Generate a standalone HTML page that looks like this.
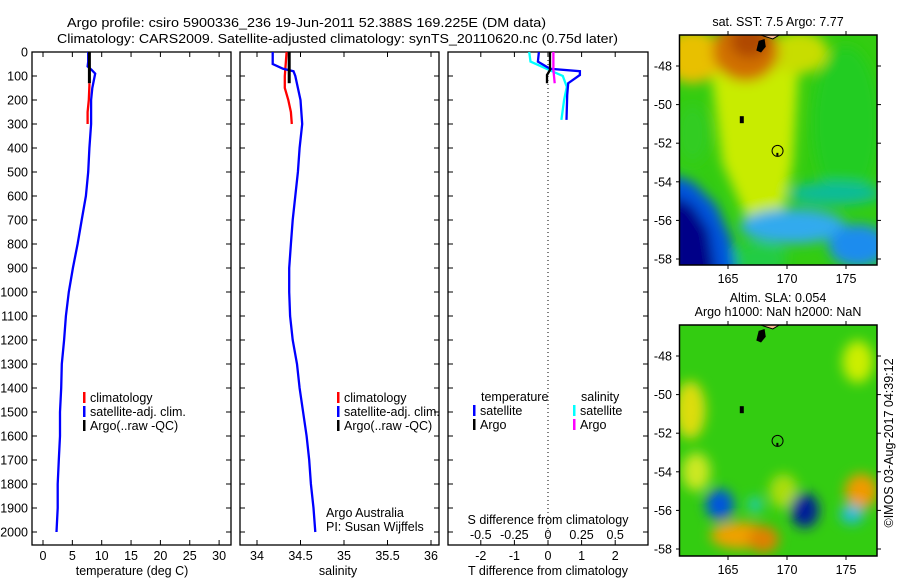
<!DOCTYPE html>
<html><head><meta charset="utf-8"><style>
body{margin:0;background:#fff;}
svg{display:block;font-family:"Liberation Sans",sans-serif;}
text{font-size:12.5px;fill:#000;}
</style></head><body>
<svg id="fig" width="900" height="580" viewBox="0 0 900 580" xmlns="http://www.w3.org/2000/svg">
<defs>
<filter id="blur1" x="-50%" y="-50%" width="200%" height="200%"><feGaussianBlur stdDeviation="6"/></filter>
<clipPath id="clipMap1"><rect x="680" y="35" width="197" height="230"/></clipPath>
<clipPath id="clipMap2"><rect x="680" y="325" width="197" height="231"/></clipPath>
</defs>
<text x="67" y="27" font-size="14.5" textLength="479" lengthAdjust="spacingAndGlyphs">Argo profile: csiro 5900336_236 19-Jun-2011 52.388S 169.225E (DM data)</text>
<text x="57" y="43" font-size="14.5" textLength="561" lengthAdjust="spacingAndGlyphs">Climatology: CARS2009. Satellite-adjusted climatology: synTS_20110620.nc (0.75d later)</text>
<g id="panels"></g>
<g id="maps"></g>
</svg>
<script>
// ---- profile data ----
const depthTicks = [0,100,200,300,400,500,600,700,800,900,1000,1100,1200,1300,1400,1500,1600,1700,1800,1900,2000];
const tempTicks = [0,5,10,15,20,25,30];
const salTicks = [34,34.5,35,35.5,36];
const tdiffTicks = [-2,-1,0,1,2];
const sdiffTicks = [-0.5,-0.25,0,0.25,0.5];

const satTempDepth = [0,40,60,75,90,100,150,200,300,400,500,600,700,800,900,1000,1100,1200,1300,1400,1500,1600,1700,1800,1900,2000];
const satTempVal   = [7.7,7.7,7.6,8.3,8.9,8.8,8.4,8.2,8.2,7.9,7.7,7.3,6.6,5.9,5.1,4.4,3.9,3.6,3.2,3.1,2.9,2.9,2.7,2.5,2.5,2.3];
const climTempDepth = [130,140,200,250,300];
const climTempVal   = [7.9,7.9,7.8,7.6,7.6];
const argoTempDepth = [0,130];
const argoTempVal   = [7.9,7.9];

const satSalDepth = [0,50,70,80,100,150,200,300,400,500,600,700,800,900,1000,1100,1200,1300,1400,1500,1600,1700,1800,1900,2000];
const satSalVal   = [34.18,34.18,34.3,34.42,34.44,34.47,34.5,34.52,34.49,34.47,34.44,34.41,34.39,34.37,34.37,34.38,34.41,34.46,34.49,34.53,34.57,34.6,34.62,34.65,34.67];
const climSalDepth = [0,100,150,200,250,300];
const climSalVal   = [34.34,34.32,34.32,34.36,34.39,34.4];
const argoSalDepth = [0,130];
const argoSalVal   = [34.37,34.37];

const tdiffSatDepth = [0,40,70,80,96,130,180,283];
const tdiffSatVal   = [-0.27,-0.3,0.06,0.95,0.95,0.6,0.57,0.55];
const tdiffArgoDepth = [0,75,96,130];
const tdiffArgoVal   = [0.06,0.06,-0.03,-0.03];
const sdiffSatDepth = [0,40,75,100,145,200,283];
const sdiffSatVal   = [-0.14,-0.13,0.01,0.11,0.14,0.12,0.1];
const sdiffArgoDepth = [0,75,130];
const sdiffArgoVal   = [0.04,0.04,0.05];

const NS="http://www.w3.org/2000/svg";
function mk(tag, attrs, parent){const e=document.createElementNS(NS,tag);for(const k in attrs)e.setAttribute(k,attrs[k]);(parent||document.getElementById('panels')).appendChild(e);return e;}
const yD = d => 52 + d*0.24;
const xT = t => 43 + t*5.87;
const xS = s => 257 + (s-34)*87;
const xTd = t => 548 + t*33.6;
const xSd = s => 548 + s*134.4;
const P = document.getElementById('panels');

function panel(x0,x1,name){
  const r=mk('rect',{x:x0,y:52,width:x1-x0,height:493,fill:'none',stroke:'#000','stroke-width':1.3},P);
  
  
  depthTicks.forEach(d=>{
    mk('line',{x1:x0,x2:x0+5,y1:yD(d),y2:yD(d),stroke:'#000'},P);
    mk('line',{x1:x1,x2:x1-5,y1:yD(d),y2:yD(d),stroke:'#000'},P);
  });
}
panel(32,231,'temperature-panel');
panel(240,439,'salinity-panel');
panel(448,648,'difference-panel');

depthTicks.forEach(d=>{
  const t=mk('text',{x:28,y:yD(d)+4.5,'text-anchor':'end'},P);t.textContent=d;
  
  
});
function xticks(vals,fx,labY){
  vals.forEach(v=>{
    const x=fx(v);
    mk('line',{x1:x,x2:x,y1:52,y2:57,stroke:'#000'},P);
    mk('line',{x1:x,x2:x,y1:545,y2:540,stroke:'#000'},P);
    const t=mk('text',{x:x,y:labY,'text-anchor':'middle'},P);t.textContent=v;
    
    
  });
}
xticks(tempTicks,xT,560);
xticks(salTicks,xS,560);
xticks(tdiffTicks,xTd,560);
sdiffTicks.forEach(v=>{const t=mk('text',{x:xSd(v),y:539,'text-anchor':'middle'},P);t.textContent=v;
  
  });
function lab(x,y,s,name,anchor){const t=mk('text',{x:x,y:y,'text-anchor':anchor||'middle'},P);t.textContent=s;
  
  return t;}
lab(132,575,'temperature (deg C)','x-axis-title-temperature');
lab(338,575,'salinity','x-axis-title-salinity');
lab(548,575,'T difference from climatology','x-axis-title-tdiff');
lab(548,524,'S difference from climatology','s-axis-title');
lab(326,517,'Argo Australia','credit-line-1','start');
lab(326,531,'PI: Susan Wijffels','credit-line-2','start');

const zl=mk('line',{x1:548,x2:548,y1:52,y2:545,stroke:'#000','stroke-dasharray':'1,3'},P);



function series(ds,vs,fx,color,name,w){
  const pts=ds.map((d,i)=>fx(vs[i]).toFixed(1)+','+yD(d).toFixed(1)).join(' ');
  const l=mk('polyline',{points:pts,fill:'none',stroke:color,'stroke-width':w||2.3},P);
  
  
}
series(climTempDepth,climTempVal,xT,'#f00','temp-climatology-line');
series(satTempDepth,satTempVal,xT,'#00f','temp-satellite-line');
series(argoTempDepth,argoTempVal,xT,'#000','temp-argo-line',3);
series(climSalDepth,climSalVal,xS,'#f00','sal-climatology-line');
series(satSalDepth,satSalVal,xS,'#00f','sal-satellite-line');
series(argoSalDepth,argoSalVal,xS,'#000','sal-argo-line',3);
series(sdiffSatDepth,sdiffSatVal,xSd,'#0ff','sdiff-satellite-line');
series(tdiffSatDepth,tdiffSatVal,xTd,'#00f','tdiff-satellite-line');
series(tdiffArgoDepth,tdiffArgoVal,xTd,'#000','tdiff-argo-line');
series(sdiffArgoDepth,sdiffArgoVal,xSd,'#f0f','sdiff-argo-line');

function legendEntry(x,y,color,s){
  const g=mk('g',{},P);
  
  
  mk('rect',{x:x,y:y-10,width:2.5,height:11,fill:color},g);
  const t=mk('text',{x:x+7,y:y},g);t.textContent=s;
}
[[83,'#f00','climatology'],[83,'#00f','satellite-adj. clim.'],[83,'#000','Argo(..raw -QC)']].forEach((e,i)=>legendEntry(e[0],402+i*14,e[1],e[2]));
[[337,'#f00','climatology'],[337,'#00f','satellite-adj. clim.'],[337,'#000','Argo(..raw -QC)']].forEach((e,i)=>legendEntry(e[0],402+i*14,e[1],e[2]));
lab(481,401,'temperature','legend-title-temperature','start');
lab(581,401,'salinity','legend-title-salinity','start');
legendEntry(473,415,'#00f','satellite');
legendEntry(473,429,'#000','Argo');
legendEntry(573,415,'#0ff','satellite');
legendEntry(573,429,'#f0f','Argo');

// ---- maps ----
const M=document.getElementById('maps');
const lonTicks=[165,170,175];
const latTicks=[-48,-50,-52,-54,-56,-58];
const LATPX=19.3;
const xL = lon => 728 + (lon-165)*11.8;
function mapFrame(y0,y1,top,clip,name,blobs,base){
  const g=mk('g',{'clip-path':'url(#'+clip+')'},M);
  
  
  const yL = lat => top + (-48-lat)*LATPX;
  mk('rect',{x:680,y:y0,width:197,height:y1-y0,fill:base},g);
  const gb=mk('g',{filter:'url(#blur1)'},g);
  blobs.forEach(b=>{
    if(b[0]==='poly'){mk('polygon',{points:b[1].map(p=>xL(p[0])+','+yL(p[1])).join(' '),fill:b[2]},gb);}
    else mk('ellipse',{cx:xL(b[0]),cy:yL(b[1]),rx:b[2]*11.8,ry:b[3]*LATPX,fill:b[4]},gb);
  });
  mk('polygon',{points:[[167.3,-46.3],[168.8,-46.6],[169.6,-46.3],[170.5,-46.1],[170.5,-45],[167,-45]].map(p=>xL(p[0])+','+yL(p[1])).join(' '),fill:'#f4b98c',stroke:'#000','stroke-width':1},g);
  mk('polygon',{points:[[167.6,-46.7],[168.1,-46.6],[168.2,-47],[167.8,-47.3],[167.4,-47.2]].map(p=>xL(p[0])+','+yL(p[1])).join(' '),fill:'#000'},g);
  mk('rect',{x:xL(166.0),y:yL(-50.6),width:4,height:7,fill:'#000'},g);
  const c=mk('circle',{cx:xL(169.2),cy:yL(-52.4),r:5.5,fill:'none',stroke:'#000','stroke-width':1},g);
  
  
  mk('rect',{x:xL(169.1),y:yL(-52.5),width:2,height:3,fill:'#000'},g);
  mk('rect',{x:679.5,y:y0,width:197.5,height:y1-y0,fill:'none',stroke:'#000','stroke-width':1.5},M);
  lonTicks.forEach(l=>{const x=xL(l);
    mk('line',{x1:x,x2:x,y1:y0,y2:y0-4,stroke:'#000'},M);
    mk('line',{x1:x,x2:x,y1:y1,y2:y1+4,stroke:'#000'},M);
    const t=mk('text',{x:x,y:y1+18,'text-anchor':'middle'},M);t.textContent=l;
    
    });
  latTicks.forEach(l=>{const y=yL(l);
    mk('line',{x1:680,x2:676,y1:y,y2:y,stroke:'#000'},M);
    mk('line',{x1:877,x2:881,y1:y,y2:y,stroke:'#000'},M);
    const t=mk('text',{x:672,y:y+4.5,'text-anchor':'end'},M);t.textContent=l;
    
    });
}
mapFrame(35,265,66,'clipMap1','sst-map',[
  ['poly',[[163.5,-48],[171,-48],[170.5,-53],[169.5,-56],[167,-56.5],[164.5,-53]],'#c8ec00'],
  [162,-47.5,2.5,1.4,'#e8c000'],
  [171,-47.3,2.5,1.1,'#c8dd00'],
  [166.5,-47.2,2.8,1.6,'#d07000'],
  [166.8,-46.7,1.6,0.9,'#b04800'],
  [162,-51.5,1.4,1.5,'#33cc22'],
  [175,-51,2.8,4,'#22cc22'],
  [174,-54.6,4,0.6,'#11bb99'],
  [170.5,-56.3,4.5,0.9,'#33aaee'],
  [176,-57.3,2.5,1.1,'#1a8cee'],
  [167.5,-58,2.5,0.8,'#22cc44'],
  ['poly',[[160,-53.6],[162,-54],[164,-55.2],[165.3,-57],[166,-60],[160,-60]],'#0055dd'],
  ['poly',[[160,-54.6],[162,-55.2],[163.4,-56.5],[164.3,-60],[160,-60]],'#000088']
],'#33cc11');
mapFrame(325,556,356,'clipMap2','sla-map',[
  [161.8,-50.8,1.3,1.5,'#dddd11'],
  [162.3,-54,1.2,1,'#cce822'],
  [176,-48.3,1.3,1.1,'#ccee00'],
  [166,-57.3,2.5,0.7,'#f0a000'],
  [168,-57.5,1.3,0.7,'#e08000'],
  [176.3,-55,1.4,0.9,'#f09a00'],
  [169.7,-55,1.2,0.9,'#aadd11'],
  [164.3,-55.7,1.2,0.8,'#0055dd'],
  [171.5,-56,1.2,0.9,'#001a99'],
  [175.5,-56.2,1,0.5,'#22bbdd'],
  [167.3,-55.7,0.6,0.4,'#22ccbb']
],'#33cc11');
lab(778,26,'sat. SST: 7.5 Argo: 7.77','sst-map-title');
lab(778,302,'Altim. SLA: 0.054','sla-map-title-1');
lab(778,316,'Argo h1000: NaN h2000: NaN','sla-map-title-2');
const v=mk('text',{x:0,y:0,'text-anchor':'middle',transform:'translate(893,443) rotate(-90)'},M);
v.textContent='©IMOS 03-Aug-2017 04:39:12';


</script>
</body></html>
